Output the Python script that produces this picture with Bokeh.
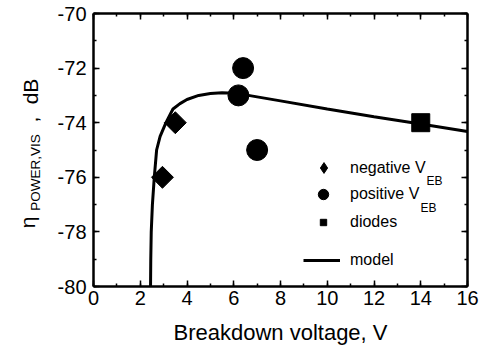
import math
from bokeh.plotting import figure
from bokeh.layouts import row
from bokeh.models import (LinearAxis, SingleIntervalTicker, Range1d, Legend, LegendItem,
                          Label, CustomJSTickFormatter)
from bokeh.embed import file_html
from bokeh.resources import INLINE

# ---- data ----
neg_x = [2.95, 3.5]
neg_y = [-76.0, -74.0]
pos_x = [6.2, 6.4, 7.0]
pos_y = [-73.0, -72.0, -75.0]
diode_x = [14.0]
diode_y = [-74.0]
model_x = [2.44, 2.45, 2.47, 2.52, 2.6, 2.7, 2.85, 3.1, 3.4, 3.7, 4.0, 4.5, 5.0, 5.5, 6.0, 6.5, 8.0, 10.0, 12.0, 14.0, 16.0]
model_y = [-80.0, -79.0, -78.0, -77.0, -76.0, -75.0, -74.5, -74.0, -73.5, -73.3, -73.15, -73.0, -72.93, -72.9, -72.92, -72.98, -73.2, -73.5, -73.78, -74.05, -74.32]

FONT = "Liberation Sans"
LEFT_W = 50
H = 352
FRAME_BOTTOM = 286   # frames of plots in a row are aligned

# ---- narrow panel holding the rotated y-axis title ----
lp = figure(width=LEFT_W, height=H, output_backend="svg", toolbar_location=None,
            x_range=Range1d(0, LEFT_W), y_range=Range1d(0, H),
            x_axis_location=None, y_axis_location=None,
            min_border=0, min_border_left=0, min_border_right=0, min_border_top=0, min_border_bottom=0)
lp.title.visible = False
lp.grid.visible = False
lp.outline_line_color = None
lp.background_fill_color = "white"
lp.border_fill_color = "white"

title_parts = ["\u03b7", "POWER,VIS", ",", "dB"]
title_sizes = ["21px", "13.5px", "21px", "21px"]
title_cx = [27, 34.5, 30, 30]        # text centre (pixels from left)
title_cy = [222, 172, 119, 91]       # text centre (pixels from top)
for t, s, cx, cy in zip(title_parts, title_sizes, title_cx, title_cy):
    lp.add_layout(Label(x=cx, y=FRAME_BOTTOM - cy, x_units="screen", y_units="screen", text=t,
                        angle=math.pi / 2, text_font=FONT, text_font_size=s, text_color="black",
                        text_align="center", text_baseline="middle"))

# ---- main plot ----
p = figure(width=481 - LEFT_W, height=H, output_backend="svg", toolbar_location=None,
           x_range=Range1d(0, 16), y_range=Range1d(-80, -70),
           x_axis_location=None, y_axis_location=None,
           min_border_left=93 - LEFT_W, min_border_right=14, min_border_top=13, min_border_bottom=66)
p.grid.visible = False
p.outline_line_color = None
p.background_fill_color = "white"
p.border_fill_color = "white"

def style_axis(ax, labels=True):
    ax.axis_line_width = 2.5
    ax.axis_line_color = "black"
    ax.major_tick_in = 6
    ax.major_tick_out = 0
    ax.minor_tick_in = 3
    ax.minor_tick_out = 0
    ax.major_tick_line_width = 1.5
    ax.minor_tick_line_width = 1.5
    ax.major_tick_line_color = "black"
    ax.minor_tick_line_color = "black"
    ax.major_label_text_font = FONT
    ax.major_label_text_color = "black"
    if labels:
        ax.major_label_text_font_size = "20px"
        ax.formatter = CustomJSTickFormatter(code="return tick.toFixed(0)")
    else:
        ax.major_label_text_font_size = "1px"
        ax.major_label_standoff = 0
        ax.formatter = CustomJSTickFormatter(code="return ''")

xb = LinearAxis(ticker=SingleIntervalTicker(interval=2, num_minor_ticks=2))
style_axis(xb)
xb.major_label_standoff = 4
xb.axis_label = "Breakdown voltage, V"
xb.axis_label_text_font = FONT
xb.axis_label_text_font_size = "22px"
xb.axis_label_text_font_style = "normal"
xb.axis_label_text_color = "black"
xb.axis_label_standoff = 12
p.add_layout(xb, "below")

xt = LinearAxis(ticker=SingleIntervalTicker(interval=2, num_minor_ticks=2))
style_axis(xt, labels=False)
p.add_layout(xt, "above")

yl = LinearAxis(ticker=SingleIntervalTicker(interval=2, num_minor_ticks=2))
style_axis(yl)
yl.major_label_standoff = 7
p.add_layout(yl, "left")

yr = LinearAxis(ticker=SingleIntervalTicker(interval=2, num_minor_ticks=2))
style_axis(yr, labels=False)
p.add_layout(yr, "right")

# ---- data glyphs ----
r_model = p.line(model_x, model_y, line_color="black", line_width=3)
r_neg = p.scatter(neg_x, neg_y, marker="square", size=15.5, angle=math.pi / 4,
                  fill_color="black", line_color="black")
r_pos = p.scatter(pos_x, pos_y, marker="circle", size=21, fill_color="black", line_color="black")
r_dio = p.scatter(diode_x, diode_y, marker="square", size=18, fill_color="black", line_color="black")
# legend-only proxy for the diamond key (legend keys are drawn unrotated); NaN -> nothing plotted
r_neg_key = p.scatter([float("nan")], [float("nan")], marker="diamond", size=10,
                      fill_color="black", line_color="black")

# ---- legends (one per entry to control spacing/marker sizes) ----
def add_legend(label, renderer, loc, gw, gh, standoff):
    lg = Legend(items=[LegendItem(label=label, renderers=[renderer])], location=loc,
                glyph_width=gw, glyph_height=gh, label_height=gh, label_standoff=standoff,
                padding=0, margin=0, spacing=0, border_line_color=None,
                background_fill_alpha=0, label_text_font=FONT, label_text_font_size="16px",
                label_text_color="black")
    p.add_layout(lg, "center")

add_legend("negative V", r_neg_key, (217, 105), 27, 27, 13)
add_legend("positive V", r_pos, (217, 79), 26, 26, 14)
add_legend("diodes", r_dio, (222, 55), 16, 16, 19)
add_legend("model", r_model, (210, 17), 37, 16, 10)

def add_label(fig, text, x, y, size):
    fig.add_layout(Label(x=x, y=y, x_units="screen", y_units="screen", text=text,
                         text_font=FONT, text_font_size=size, text_color="black",
                         text_align="left", text_baseline="alphabetic"))

# subscripts in legend
add_label(p, "EB", 426 - 93, 286 - 180, "12px")
add_label(p, "EB", 420 - 93, 286 - 207, "12px")

layout = row(lp, p, spacing=0)
open("out.html", "w").write(file_html(layout, INLINE))
